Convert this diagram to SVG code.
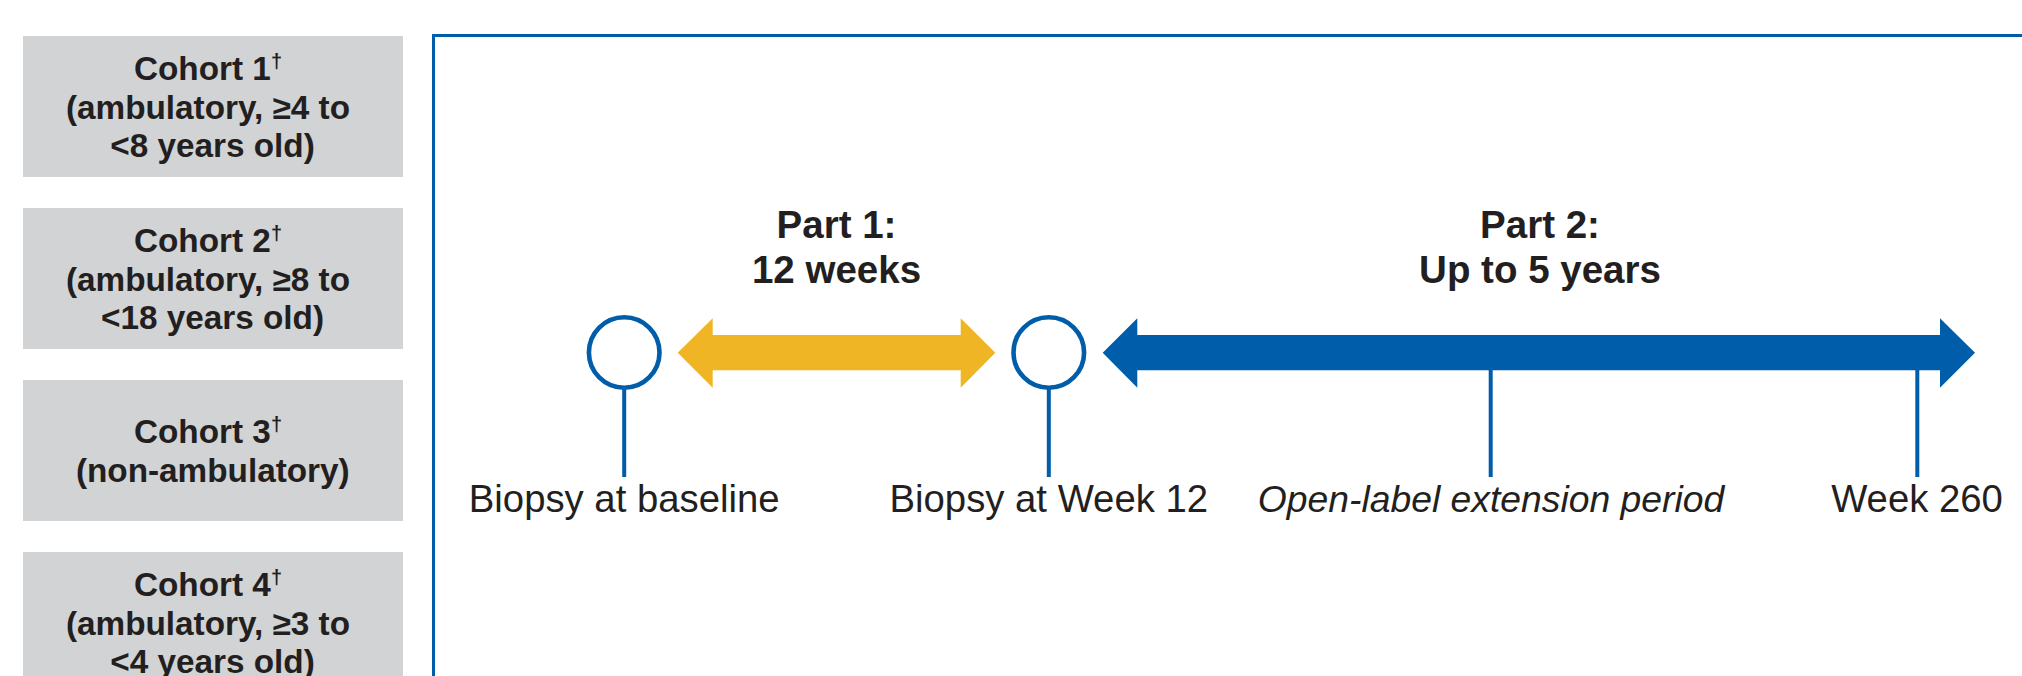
<svg xmlns="http://www.w3.org/2000/svg" width="2022" height="676" viewBox="0 0 2022 676">
<style>
.box{fill:#d1d3d4}
.ct{font-family:"Liberation Sans",Arial,sans-serif;font-weight:bold;font-size:33.3px;fill:#231f20;text-anchor:middle}
.dg{font-size:20px}
.pt{font-family:"Liberation Sans",Arial,sans-serif;font-weight:bold;font-size:38.5px;fill:#231f20;text-anchor:middle}
.lb{font-family:"Liberation Sans",Arial,sans-serif;font-size:38.3px;fill:#231f20;text-anchor:middle}
.it{font-style:italic;font-size:37.3px}
.ms{fill:#ffffff;stroke:#005daa;stroke-width:4.6}
.stem{stroke:#005daa;stroke-width:4;fill:none}
</style>
<rect width="2022" height="676" fill="#ffffff"/>
<rect id="frame" x="433.5" y="35.5" width="1640" height="700" fill="none" stroke="#005daa" stroke-width="3"/>
<g id="cohort1">
<rect class="box" x="23" y="36" width="380" height="141"/>
<text class="ct"><tspan x="208" y="80">Cohort 1<tspan class="dg" dy="-12">†</tspan></tspan><tspan x="208" y="118.5">(ambulatory, ≥4 to</tspan><tspan x="212.5" y="157">&lt;8 years old)</tspan></text>
</g>
<g id="cohort2">
<rect class="box" x="23" y="208" width="380" height="141"/>
<text class="ct"><tspan x="208" y="252">Cohort 2<tspan class="dg" dy="-12">†</tspan></tspan><tspan x="208" y="290.5">(ambulatory, ≥8 to</tspan><tspan x="212.5" y="329">&lt;18 years old)</tspan></text>
</g>
<g id="cohort3">
<rect class="box" x="23" y="380" width="380" height="141"/>
<text class="ct"><tspan x="208" y="443">Cohort 3<tspan class="dg" dy="-12">†</tspan></tspan><tspan x="212.8" y="482">(non-ambulatory)</tspan></text>
</g>
<g id="cohort4">
<rect class="box" x="23" y="552" width="380" height="141"/>
<text class="ct"><tspan x="208" y="596">Cohort 4<tspan class="dg" dy="-12">†</tspan></tspan><tspan x="208" y="634.5">(ambulatory, ≥3 to</tspan><tspan x="212.5" y="673">&lt;4 years old)</tspan></text>
</g>
<g id="connectors">
<polygon id="part1-arrow" fill="#efb524" points="677.7,352.7 712.7,318.3 712.7,335 960.7,335 960.7,318.3 995.3,352.7 960.7,387.7 960.7,370.3 712.7,370.3 712.7,387.7"/>
<polygon id="part2-arrow" fill="#005daa" points="1102.7,352.7 1137.3,318.3 1137.3,335 1940,335 1940,318.3 1975,352.7 1940,387.7 1940,370.3 1137.3,370.3 1137.3,387.7"/>
<line class="stem" x1="624.2" y1="388" x2="624.2" y2="477"/>
<line class="stem" x1="1048.8" y1="388" x2="1048.8" y2="477"/>
<line class="stem" x1="1490.7" y1="370" x2="1490.7" y2="477"/>
<line class="stem" x1="1917.3" y1="370" x2="1917.3" y2="477"/>
</g>
<g id="part1-label">
<text class="pt"><tspan x="836.5" y="238">Part 1:</tspan><tspan x="836.5" y="283">12 weeks</tspan></text>
</g>
<g id="part2-label">
<text class="pt"><tspan x="1540" y="238">Part 2:</tspan><tspan x="1540" y="283">Up to 5 years</tspan></text>
</g>
<g id="baseline">
<circle class="ms" cx="624.2" cy="352.5" r="35.3"/>
<text class="lb" x="624.2" y="512">Biopsy at baseline</text>
</g>
<g id="week12">
<circle class="ms" cx="1048.8" cy="352.5" r="35.3"/>
<text class="lb" x="1048.8" y="512">Biopsy at Week 12</text>
</g>
<g id="ole">
<text class="lb it" x="1491" y="512">Open-label extension period</text>
</g>
<g id="week260">
<text class="lb" x="1917" y="512">Week 260</text>
</g>
</svg>
